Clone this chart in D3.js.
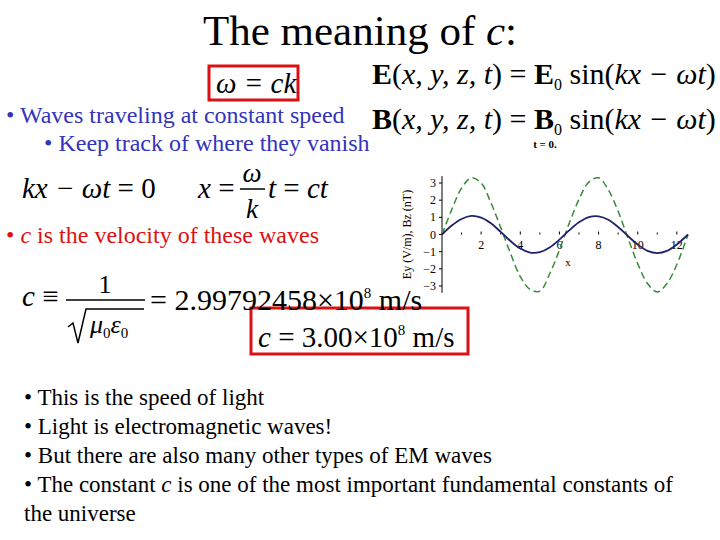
<!DOCTYPE html>
<html><head><meta charset="utf-8">
<script src="https://cdn.jsdelivr.net/npm/d3@7"></script>
<style>body{margin:0;background:#fff}text{font-family:"Liberation Serif","DejaVu Serif",serif}</style>
</head><body><div id="chart"></div>
<script>
const xs = [0,0.5,1,1.5,2,2.5,3,3.5,4,4.5,5,5.5,6,6.5,7,7.5,8,8.5,9,9.5,10,10.5,11,11.5,12,12.57];
const ey = [0,1.45,2.7,3.3,3.0,1.85,0.4,-1.1,-2.45,-3.2,-3.3,-2.3,-0.9,0.65,2.05,3.05,3.3,2.6,1.35,-0.2,-1.7,-2.85,-3.35,-2.85,-1.75,0];
const bz = [0,0.52,0.9,1.08,0.98,0.65,0.15,-0.38,-0.82,-1.05,-1.03,-0.76,-0.3,0.24,0.71,1.01,1.06,0.86,0.44,-0.09,-0.58,-0.95,-1.08,-0.95,-0.58,0];
const xTicks = [2,4,6,8,10,12];
const yTicks = [-3,-2,-1,0,1,2,3];

const svg = d3.select("#chart").append("svg").attr("width",720).attr("height",540);

function txt(x,y,s,size,opt={}) {
  const t = svg.append("text").attr("x",x).attr("y",y).attr("font-size",size)
    .attr("fill",opt.fill||"#000").attr("text-anchor",opt.anchor||"start");
  if (opt.italic) t.attr("font-style","italic");
  t.html(s);
  return t;
}
const blue = "#3333bb", red = "#dd1111";

txt(360,45,'The meaning of <tspan font-style="italic">c</tspan>:',43,{anchor:"middle"});

// red boxes
svg.append("rect").attr("x",209).attr("y",66).attr("width",89).attr("height",34).attr("fill","none").attr("stroke",red).attr("stroke-width",3);
svg.append("rect").attr("x",251).attr("y",308).attr("width",217).attr("height",46).attr("fill","none").attr("stroke",red).attr("stroke-width",3);
txt(216,93,'ω = ck',29,{italic:true});

txt(372,84,'<tspan font-weight="bold">E</tspan>(<tspan font-style="italic">x, y, z, t</tspan>) = <tspan font-weight="bold">E</tspan><tspan font-size="16" dy="6">0</tspan><tspan dy="-6"> sin(</tspan><tspan font-style="italic">kx − ωt</tspan>)',30);
txt(372,129,'<tspan font-weight="bold">B</tspan>(<tspan font-style="italic">x, y, z, t</tspan>) = <tspan font-weight="bold">B</tspan><tspan font-size="16" dy="6">0</tspan><tspan dy="-6"> sin(</tspan><tspan font-style="italic">kx − ωt</tspan>)',30);

txt(6,123,'• Waves  traveling at constant speed',24,{fill:blue});
txt(44,151,'• Keep track of where they vanish',24,{fill:blue});
txt(22,198,'<tspan font-style="italic">kx − ωt</tspan> = 0',29);
txt(198,198,'<tspan font-style="italic">x</tspan> =',29);
txt(252,182,'ω',27,{italic:true,anchor:"middle"});
svg.append("line").attr("x1",240).attr("x2",265).attr("y1",189).attr("y2",189).attr("stroke","#000").attr("stroke-width",1.5);
txt(252,218,'k',27,{italic:true,anchor:"middle"});
txt(268,198,'<tspan font-style="italic">t</tspan>  = <tspan font-style="italic">ct</tspan>',29);
txt(6,243,'• <tspan font-style="italic">c</tspan> is the velocity of these waves',24,{fill:red});

txt(22,306,'<tspan font-style="italic">c</tspan> ≡',29);
txt(105,293,'1',26,{anchor:"middle"});
svg.append("line").attr("x1",66).attr("x2",145).attr("y1",300).attr("y2",300).attr("stroke","#000").attr("stroke-width",1.5);
svg.append("path").attr("d","M68,327 L73,323 L78,343 L86,309 L144,309").attr("fill","none").attr("stroke","#000").attr("stroke-width",1.5);
txt(90,333,'<tspan font-style="italic">μ</tspan><tspan font-size="15" dy="5">0</tspan><tspan font-style="italic" dy="-5">ε</tspan><tspan font-size="15" dy="5">0</tspan>',26);
txt(150,310,'= 2.99792458×10<tspan font-size="15" dy="-12">8</tspan><tspan dy="12">  m/s</tspan>',30);
txt(258,347,'<tspan font-style="italic">c</tspan> = 3.00×10<tspan font-size="15" dy="-12">8</tspan><tspan dy="12">  m/s</tspan>',29);

const lines = ['• This is the speed of light','• Light is electromagnetic waves!','• But there are also many other types of EM waves',
  '• The constant <tspan font-style="italic">c</tspan> is one of the most important fundamental constants of','the universe'];
lines.forEach((s,i)=>txt(24,405+i*29,s,23));

// chart
const x = d3.scaleLinear().domain([0,12.57]).range([442,688]);
const y = d3.scaleLinear().domain([-3,3]).range([286,183]);
const g = svg.append("g").attr("font-size",12);
g.append("line").attr("x1",x(0)).attr("x2",x(0)).attr("y1",y(-3.4)).attr("y2",y(3.4)).attr("stroke","#000");
yTicks.forEach(v=>{
  g.append("line").attr("x1",x(0)-3).attr("x2",x(0)).attr("y1",y(v)).attr("y2",y(v)).attr("stroke","#000");
  g.append("text").attr("x",x(0)-6).attr("y",y(v)+4).attr("text-anchor","end").text(v<0?"−"+(-v):v);
});
xTicks.forEach(v=>{
  g.append("line").attr("x1",x(v)).attr("x2",x(v)).attr("y1",y(0)-3).attr("y2",y(0)).attr("stroke","#000");
  g.append("line").attr("x1",x(v-1)).attr("x2",x(v-1)).attr("y1",y(0)-2).attr("y2",y(0)).attr("stroke","#000");
  g.append("text").attr("x",x(v)).attr("y",y(0)+14).attr("text-anchor","middle").text(v);
});
g.append("text").attr("x",x(6.3)).attr("y",y(0)+31).attr("font-size",11).text("x");
g.append("text").attr("x",545).attr("y",148).attr("text-anchor","middle").attr("font-size",11).attr("font-weight","bold").text("t = 0.");
g.append("text").attr("transform","translate(411,"+y(0)+") rotate(-90)").attr("text-anchor","middle").attr("font-size",12).text("Ey (V/m), Bz (nT)");

const line = d3.line().curve(d3.curveCatmullRom).x((d,i)=>x(xs[i])).y(d=>y(d));
g.append("path").attr("d",line(ey)).attr("fill","none").attr("stroke","#3a8a3a").attr("stroke-width",1.5).attr("stroke-dasharray","7,4");
g.append("path").attr("d",line(bz)).attr("fill","none").attr("stroke","#22226a").attr("stroke-width",1.8);
</script></body></html>
